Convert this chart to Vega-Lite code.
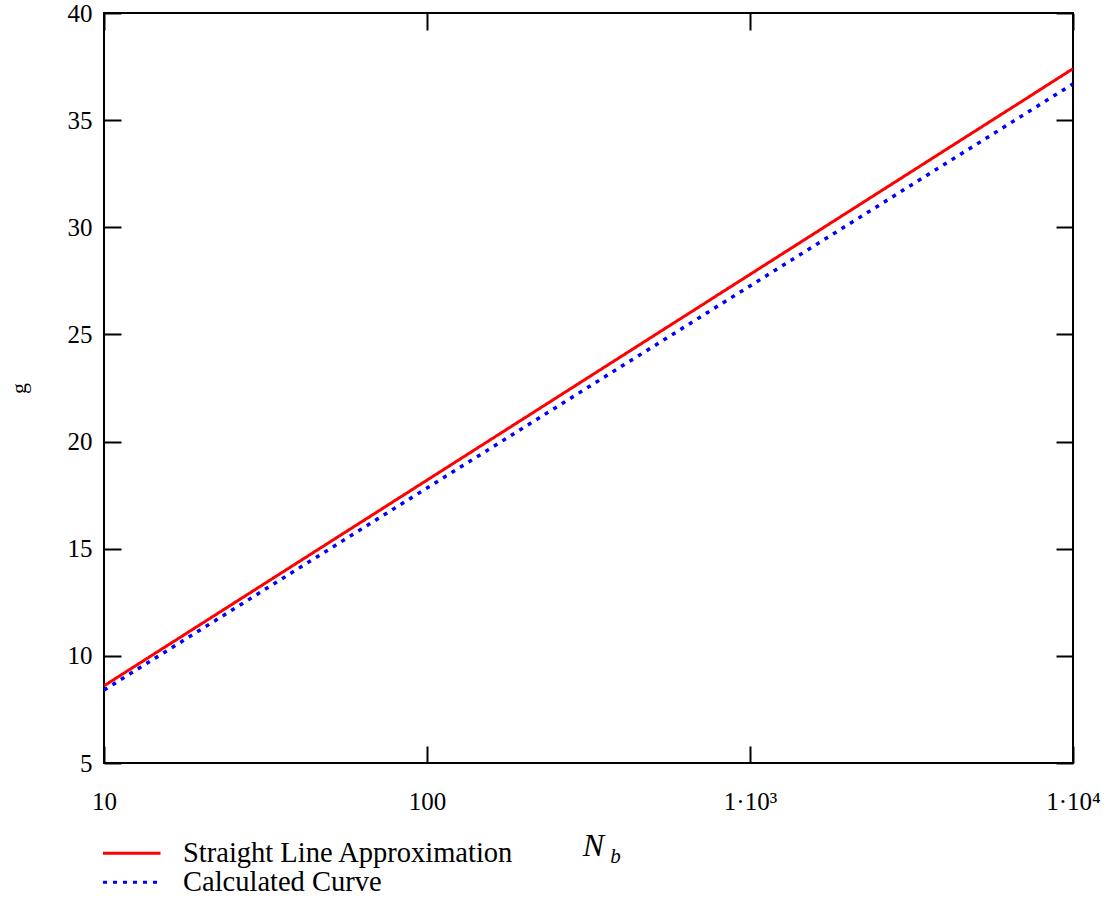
{
  "$schema": "https://vega.github.io/schema/vega-lite/v6.json",
  "autosize": "none",
  "width": 969,
  "height": 750,
  "padding": {"left": 104, "top": 13, "right": 35, "bottom": 137},
  "background": "white",
  "config": {
    "font": "Liberation Serif",
    "view": {"stroke": "black", "strokeWidth": 2},
    "axis": {"grid": false, "domain": false, "tickColor": "black", "tickWidth": 2, "labelColor": "black", "titleColor": "black", "labelFont": "Liberation Serif", "titleFont": "Liberation Serif", "titleFontWeight": "normal"}
  },
  "datasets": {
    "red": [
      {"N": 10, "g": 8.60, "series": "Straight Line Approximation"},
      {"N": 12, "g": 9.36, "series": "Straight Line Approximation"},
      {"N": 15, "g": 10.29, "series": "Straight Line Approximation"},
      {"N": 20, "g": 11.49, "series": "Straight Line Approximation"},
      {"N": 25, "g": 12.42, "series": "Straight Line Approximation"},
      {"N": 30, "g": 13.18, "series": "Straight Line Approximation"},
      {"N": 40, "g": 14.38, "series": "Straight Line Approximation"},
      {"N": 50, "g": 15.31, "series": "Straight Line Approximation"},
      {"N": 60, "g": 16.07, "series": "Straight Line Approximation"},
      {"N": 70, "g": 16.71, "series": "Straight Line Approximation"},
      {"N": 80, "g": 17.27, "series": "Straight Line Approximation"},
      {"N": 100, "g": 18.20, "series": "Straight Line Approximation"},
      {"N": 120, "g": 18.96, "series": "Straight Line Approximation"},
      {"N": 150, "g": 19.89, "series": "Straight Line Approximation"},
      {"N": 200, "g": 21.09, "series": "Straight Line Approximation"},
      {"N": 250, "g": 22.02, "series": "Straight Line Approximation"},
      {"N": 300, "g": 22.78, "series": "Straight Line Approximation"},
      {"N": 400, "g": 23.98, "series": "Straight Line Approximation"},
      {"N": 500, "g": 24.91, "series": "Straight Line Approximation"},
      {"N": 600, "g": 25.67, "series": "Straight Line Approximation"},
      {"N": 700, "g": 26.31, "series": "Straight Line Approximation"},
      {"N": 800, "g": 26.87, "series": "Straight Line Approximation"},
      {"N": 1000, "g": 27.80, "series": "Straight Line Approximation"},
      {"N": 1200, "g": 28.56, "series": "Straight Line Approximation"},
      {"N": 1500, "g": 29.49, "series": "Straight Line Approximation"},
      {"N": 2000, "g": 30.69, "series": "Straight Line Approximation"},
      {"N": 2500, "g": 31.62, "series": "Straight Line Approximation"},
      {"N": 3000, "g": 32.38, "series": "Straight Line Approximation"},
      {"N": 4000, "g": 33.58, "series": "Straight Line Approximation"},
      {"N": 5000, "g": 34.51, "series": "Straight Line Approximation"},
      {"N": 6000, "g": 35.27, "series": "Straight Line Approximation"},
      {"N": 7000, "g": 35.91, "series": "Straight Line Approximation"},
      {"N": 8000, "g": 36.47, "series": "Straight Line Approximation"},
      {"N": 10000, "g": 37.40, "series": "Straight Line Approximation"}
    ],
    "blue": [
      {"N": 10, "g": 8.40, "series": "Calculated Curve"},
      {"N": 12, "g": 9.15, "series": "Calculated Curve"},
      {"N": 15, "g": 10.06, "series": "Calculated Curve"},
      {"N": 20, "g": 11.24, "series": "Calculated Curve"},
      {"N": 25, "g": 12.15, "series": "Calculated Curve"},
      {"N": 30, "g": 12.90, "series": "Calculated Curve"},
      {"N": 40, "g": 14.08, "series": "Calculated Curve"},
      {"N": 50, "g": 14.99, "series": "Calculated Curve"},
      {"N": 60, "g": 15.74, "series": "Calculated Curve"},
      {"N": 70, "g": 16.37, "series": "Calculated Curve"},
      {"N": 80, "g": 16.92, "series": "Calculated Curve"},
      {"N": 100, "g": 17.83, "series": "Calculated Curve"},
      {"N": 120, "g": 18.58, "series": "Calculated Curve"},
      {"N": 150, "g": 19.49, "series": "Calculated Curve"},
      {"N": 200, "g": 20.67, "series": "Calculated Curve"},
      {"N": 250, "g": 21.58, "series": "Calculated Curve"},
      {"N": 300, "g": 22.33, "series": "Calculated Curve"},
      {"N": 400, "g": 23.51, "series": "Calculated Curve"},
      {"N": 500, "g": 24.42, "series": "Calculated Curve"},
      {"N": 600, "g": 25.17, "series": "Calculated Curve"},
      {"N": 700, "g": 25.80, "series": "Calculated Curve"},
      {"N": 800, "g": 26.35, "series": "Calculated Curve"},
      {"N": 1000, "g": 27.26, "series": "Calculated Curve"},
      {"N": 1200, "g": 28.01, "series": "Calculated Curve"},
      {"N": 1500, "g": 28.92, "series": "Calculated Curve"},
      {"N": 2000, "g": 30.10, "series": "Calculated Curve"},
      {"N": 2500, "g": 31.01, "series": "Calculated Curve"},
      {"N": 3000, "g": 31.76, "series": "Calculated Curve"},
      {"N": 4000, "g": 32.94, "series": "Calculated Curve"},
      {"N": 5000, "g": 33.85, "series": "Calculated Curve"},
      {"N": 6000, "g": 34.60, "series": "Calculated Curve"},
      {"N": 7000, "g": 35.23, "series": "Calculated Curve"},
      {"N": 8000, "g": 35.78, "series": "Calculated Curve"},
      {"N": 10000, "g": 36.69, "series": "Calculated Curve"}
    ]
  },
  "layer": [
    {
      "data": {"name": "red"},
      "mark": {"type": "line", "strokeWidth": 3, "clip": true},
      "encoding": {
        "x": {"field": "N", "type": "quantitative", "scale": {"type": "log", "domain": [10, 10000], "nice": false},
          "axis": {"orient": "bottom", "values": [10, 100, 1000, 10000], "tickSize": -17, "labelPadding": 63, "labelFontSize": 25, "labelBaseline": "alphabetic", "labelFlush": false,
            "labelExpr": "datum.value == 10 ? '10' : datum.value == 100 ? '100' : datum.value == 1000 ? '1·10³' : '1·10⁴'",
            "title": "N", "titleFontSize": 32, "titleFontStyle": "italic", "titleX": 489, "titleY": 92, "titleBaseline": "alphabetic", "titleAlign": "center"}},
        "y": {"field": "g", "type": "quantitative", "scale": {"domain": [5, 40], "nice": false, "zero": false},
          "axis": {"orient": "left", "values": [5, 10, 15, 20, 25, 30, 35, 40], "tickSize": -17, "labelPadding": 29, "labelFontSize": 25, "labelFlush": false,
            "title": "g", "titleFontSize": 22, "titleX": -86, "titleY": 375, "titleAngle": -90, "titleAlign": "center", "titleBaseline": "middle"}},
        "color": {"field": "series", "type": "nominal",
          "scale": {"domain": ["Straight Line Approximation", "Calculated Curve"], "range": ["#ff0000", "#0000ff"]},
          "legend": {"orient": "none", "legendX": 13.5, "legendY": 826, "title": null, "symbolType": "M-2.3,0L2.3,0", "symbolSize": 625, "symbolStrokeWidth": 3,
            "labelFontSize": 28.5, "labelFont": "Liberation Serif", "labelColor": "black", "labelOffset": 37, "labelLimit": 0, "rowPadding": 0, "padding": 0}},
        "strokeDash": {"field": "series", "type": "nominal",
          "scale": {"domain": ["Straight Line Approximation", "Calculated Curve"], "range": [[1, 0], [4, 6]]},
          "legend": null}
      }
    },
    {
      "data": {"name": "blue"},
      "mark": {"type": "line", "strokeWidth": 3.5, "clip": true},
      "encoding": {
        "x": {"field": "N", "type": "quantitative",
          "axis": {"orient": "top", "values": [10, 100, 1000, 10000], "tickSize": -17, "labels": false,
            "title": "b", "titleFontSize": 21, "titleFontStyle": "italic", "titleX": 511, "titleY": 849, "titleBaseline": "alphabetic", "titleAlign": "center"}},
        "y": {"field": "g", "type": "quantitative",
          "axis": {"orient": "right", "values": [5, 10, 15, 20, 25, 30, 35, 40], "tickSize": -17, "labels": false, "title": null}},
        "color": {"field": "series", "type": "nominal"},
        "strokeDash": {"field": "series", "type": "nominal"}
      }
    }
  ],
  "resolve": {"axis": {"x": "independent", "y": "independent"}}
}
